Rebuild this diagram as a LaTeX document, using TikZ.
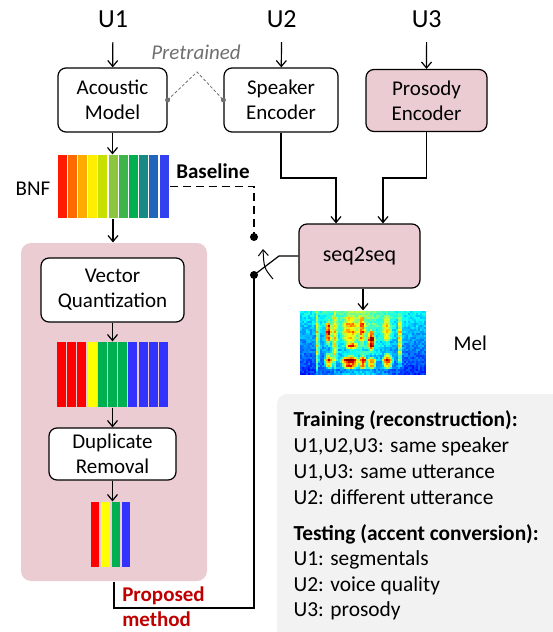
\documentclass[tikz,border=0pt]{standalone}
\usepackage{fontspec}
\setmainfont{Carlito}
\usetikzlibrary{arrows.meta}
\definecolor{pinkfill}{HTML}{EBCCD3}
\definecolor{grayfill}{HTML}{F2F2F2}
\definecolor{redtxt}{HTML}{C00000}
\definecolor{ptgray}{HTML}{707070}
\definecolor{b1}{HTML}{FF1A00}
\definecolor{b2}{HTML}{FF6A00}
\definecolor{b3}{HTML}{FFAA00}
\definecolor{b4}{HTML}{FFEE00}
\definecolor{b5}{HTML}{C8E000}
\definecolor{b6}{HTML}{8CC63F}
\definecolor{b7}{HTML}{3DB54A}
\definecolor{b8}{HTML}{00B050}
\definecolor{b9}{HTML}{178A86}
\definecolor{b10}{HTML}{2266BB}
\definecolor{b11}{HTML}{3340F0}
\definecolor{qr}{HTML}{FF0000}
\definecolor{qy}{HTML}{FFFF00}
\definecolor{qg}{HTML}{00B050}
\definecolor{qb}{HTML}{3333FF}
\begin{document}
\begin{tikzpicture}[x=1pt,y=-1pt,line width=1.2pt,
  >={Straight Barb[length=6pt,width=10pt]},
  box/.style={draw,rounded corners=8pt,align=center,inner sep=0pt,
    font=\fontsize{21}{25}\selectfont},
  utxt/.style={font=\fontsize{26}{30}\selectfont,anchor=base,inner xsep=0pt,inner ysep=14pt},
  lbl/.style={font=\fontsize{21}{25}\selectfont,anchor=base west,inner sep=0pt},
  info/.style={lbl,font=\fontsize{21.4}{25}\selectfont},
  area/.style={inner sep=0pt,minimum width=#1},
  swdot/.style={fill=black,circle,inner sep=0pt,minimum size=8pt},
  gdot/.style={fill=ptgray,circle,inner sep=0pt,minimum size=5pt},
  ptline/.style={draw=ptgray,line width=0.8pt,dash pattern=on 3pt off 2pt},
  baseline dash/.style={dash pattern=on 8pt off 5pt},
  declare function={
    blob(\px,\py,\cx,\cy,\wx,\wy)=max(0,1-((\px-\cx)/\wx)^2-((\py-\cy)/\wy)^2);
  }]
\useasboundingbox (0,0) rectangle (552,632);

% gray info panel
\fill[grayfill,rounded corners=10pt] (277,394) rectangle (575,655);
\node[info] (i1) at (293,426.7) {\bfseries Training (reconstruction):};
\node[info] (i2) at (293,452.5) {U1,U2,U3: same speaker};
\node[info] (i3) at (293,478) {U1,U3: same utterance};
\node[info] (i4) at (293,504) {U2: different utterance};
\node[info] (i5) at (293,540) {\bfseries Testing (accent conversion):};
\node[info] (i6) at (293,565.7) {U1: segmentals};
\node[info] (i7) at (293,591) {U2: voice quality};
\node[info] (i8) at (293,616.7) {U3: prosody};

% proposed panel
\node[fill=pinkfill,rounded corners=10pt,inner sep=0pt,minimum width=186pt,minimum height=338pt] (panel) at (114,412) {};

% inputs
\node[utxt] (u1) at (113,27.3) {U1};
\node[utxt] (u2) at (281.7,27.3) {U2};
\node[utxt] (u3) at (426.7,27.3) {U3};

% boxes
\node[box,minimum width=109pt,minimum height=64pt] (am) at (112.5,100) {Acoustic\\Model};
\node[box,minimum width=114pt,minimum height=64pt] (se) at (281,100) {Speaker\\Encoder};
\node[box,fill=pinkfill,minimum width=121pt,minimum height=62pt] (pe) at (426.5,100.5) {Prosody\\Encoder};
\node[box,fill=white,minimum width=143pt,minimum height=64pt] (vq) at (112.5,290) {Vector\\Quantization};
\node[box,fill=white,minimum width=127pt,minimum height=52pt] (dr) at (112.5,454) {Duplicate\\Removal};
\node[box,fill=pinkfill,minimum width=121pt,minimum height=64pt,font=\fontsize{22}{25}\selectfont] (s2s) at (359.5,256) {seq2seq};

\draw[->] (u1) -- (am);
\draw[->] (u2) -- (se);
\draw[->] (u3) -- (pe.north);

% pretrained link
\node[lbl,font=\fontsize{21}{25}\selectfont\itshape,text=ptgray] (pt) at (150.7,59.3) {Pretrained};
\coordinate (pk) at (197,72);
\draw[ptline] (am.east) -- (pk) -- (se.west);
\node[gdot] (d1) at (am.east) {};
\node[gdot] (d2) at (se.west) {};

% BNF bars
\node[area=112pt,minimum height=63pt] (bnf) at (113,186.5) {};
\foreach \c [count=\i from 0] in {b1,b2,b3,b4,b5,b6,b7,b8,b9,b10,b11}
  \fill[\c] (57.5+\i*10.2,155) rectangle ++(9,63);
\node[lbl] (bnfl) at (15,195) {BNF};
\node[lbl,font=\fontsize{21}{25}\selectfont\bfseries] (bl) at (175.7,178.3) {Baseline};

% VQ bars
\node[area=111pt,minimum height=65pt] (vqb) at (112.5,374.5) {};
\foreach \c [count=\i from 0] in {qr,qr,qr,qy,qg,qg,qg,qb,qb,qb,qb}
  \fill[\c] (57+\i*10.2,342) rectangle ++(9,65);

% deduplicated bars
\node[area=40pt,minimum height=65pt] (db) at (111,534.5) {};
\foreach \c [count=\i from 0] in {qr,qy,qg,qb}
  \fill[\c] (91+\i*10.3,502) rectangle ++(8.4,65);

\draw[->] (am) -- (am.south |- bnf.north);
\draw[->] (bnf.south) -- (bnf.south |- panel.north);
\draw[->] (vq.south) -- (vq.south |- vqb.north);
\draw[->] (vqb.south -| dr.north) -- (dr.north);
\draw[->] (dr.south) -- (dr.south |- db.north);

% mel spectrogram
\pgfmathsetseed{11}
\foreach \i in {0,...,62}{
  \foreach \j in {0,...,31}{
    \pgfmathsetmacro\xx{300+2*\i}
    \pgfmathsetmacro\yy{311+2*\j}
    \pgfmathsetmacro\cx{\xx+1}
    \pgfmathsetmacro\cy{\yy+1}
    \pgfmathsetmacro\yf{\j/31}
    \pgfmathsetmacro\BB{0.4*blob(\cx,\cy,317.5,343,2,40)
      +0.65*blob(\cx,\cy,328.5,333,3.5,14)+0.6*blob(\cx,\cy,329,361,5,9)
      +0.35*blob(\cx,\cy,335,340,3,36)
      +0.3*blob(\cx,\cy,350,330,9,17)+0.45*blob(\cx,\cy,352,346,7,5)
      +0.7*blob(\cx,\cy,350,362,10,8)
      +0.6*blob(\cx,\cy,363,362,4.5,8)+0.4*blob(\cx,\cy,362,330,4,16)
      +0.7*blob(\cx,\cy,371.5,341,4,12)+0.5*blob(\cx,\cy,372,363,5,7)
      +0.65*blob(\cx,\cy,388,361,6,9)+0.35*blob(\cx,\cy,387,330,5,17)
      +0.4*blob(\cx,\cy,400,340,3,32)}
    \pgfmathsetmacro\VB{0.2*max(0,1-abs(\cx-360)/48)}
    \pgfmathsetmacro\HH{0.5+0.5*cos(51.43*(\cy-311))}
    \pgfmathsetmacro\vv{min(1,max(0,0.32-0.2*\yf+\VB*(0.6+0.4*\HH)+0.1*rnd+\BB*(0.7+0.3*\HH)*(0.85+0.3*rnd)))}
    \pgfmathsetmacro\mr{min(1,max(0,1.5-abs(4*\vv-3)))}
    \pgfmathsetmacro\mg{min(1,max(0,1.5-abs(4*\vv-2)))}
    \pgfmathsetmacro\mb{min(1,max(0,1.5-abs(4*\vv-1)))}
    \definecolor{melc}{rgb}{\mr,\mg,\mb}
    \fill[melc] (\xx,\yy) rectangle ++(2.2,2.2);
  }
}
\node[area=126pt,minimum height=64pt] (mel) at (363,343) {};
\node[lbl] (mell) at (453,350) {Mel};
\draw[->] (mel.north |- s2s.south) -- (mel.north);

% encoder to seq2seq
\coordinate (m1) at (336,178);
\coordinate (m2) at (383,178);
\draw[->] (se.south) |- (m1) -- (m1 |- s2s.north);
\draw[->] (pe.south) |- (m2) -- (m2 |- s2s.north);

% switch
\coordinate (swA) at (254,237);
\coordinate (swB) at (254,275);
\coordinate (swK) at (279,256);
\coordinate (pmc) at (254,608);
\draw[baseline dash] (bnf.east) -| (swA);
\draw (panel.south) |- (pmc) -- (swB);
\draw (swB) -- (swK) -- (s2s.west);
\node[swdot] (sa) at (swA) {};
\node[swdot] (sb) at (swB) {};
\coordinate (arcS) at (273,279);
\coordinate (arcE) at (263,249);
\draw[->,line width=1pt] (arcS) .. controls (264,268) .. (arcE);

\node[lbl,text=redtxt,font=\fontsize{21}{25}\selectfont\bfseries] (pm1) at (121.7,601.7) {Proposed};
\node[lbl,text=redtxt,font=\fontsize{21}{25}\selectfont\bfseries] (pm2) at (121.7,626.7) {method};
\end{tikzpicture}
\end{document}
